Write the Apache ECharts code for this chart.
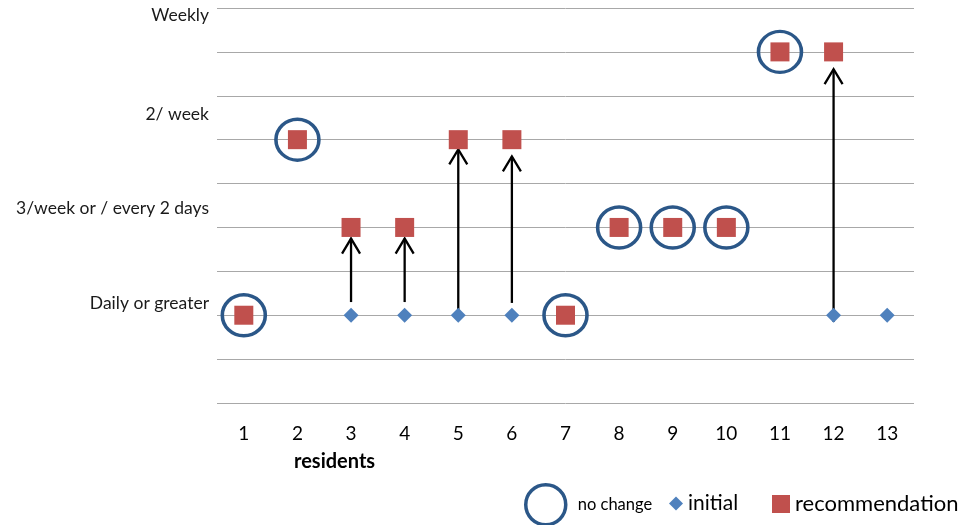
<!DOCTYPE html>
<html><head><meta charset="utf-8">
<script src="https://cdn.jsdelivr.net/npm/echarts@6/dist/echarts.min.js"></script>
<style>html,body{margin:0;padding:0;background:#fff}#c{width:961px;height:525px}</style>
</head><body><div id="c"></div>
<script>
// ---- data ----
const residents = ['1','2','3','4','5','6','7','8','9','10','11','12','13'];
const initialValues = [2, 6, 2, 2, 2, 2, 2, 4, 4, 4, 8, 2, 2];
const recommendationValues = [2, 6, 4, 4, 6, 6, 2, 4, 4, 4, 8, 8, null];
const noChangeResidents = ['1','2','7','8','9','10','11'];
const noChangeValues = [2, 6, 2, 4, 4, 4, 8];
const arrowResidents = ['3','4','5','6','12'];
const arrowStart = [2.3, 2.3, 2.12, 2.28, 1.85];
const arrowEnd = [3.77, 3.77, 5.8, 5.64, 7.63];
const yLabels = ['Daily or greater', '3/week or / every 2 days', '2/ week', 'Weekly'];
const yLabelValues = [2.28, 4.43, 6.58, 8.84];

const FONT = 'Lato';
const chart = echarts.init(document.getElementById('c'));
chart.setOption({
  animation: false,
  textStyle: {fontFamily: FONT},
  title: {text: 'residents', left: 289, top: 447, textStyle: {fontFamily: FONT, fontSize: 20, fontWeight: 'bold', color: '#000'}},
  grid: {left: 217, right: 47, top: 8, bottom: 122},
  legend: [
    {left: 519, top: 478, itemWidth: 42, itemHeight: 40, itemGap: 0, selectedMode: false,
     textStyle: {fontFamily: FONT, fontSize: 16.5, color: '#000', padding: [0, 0, 0, 6]},
     data: [{name: 'no change', icon: 'circle', itemStyle: {color: 'rgba(0,0,0,0)', borderColor: '#2B5788', borderWidth: 3.5, opacity: 1}}]},
    {left: 664, top: 488, itemWidth: 14, itemHeight: 14, selectedMode: false,
     textStyle: {fontFamily: FONT, fontSize: 21, color: '#000'},
     data: [{name: 'initial', icon: 'diamond', itemStyle: {opacity: 1}}]},
    {left: 767, top: 488, itemWidth: 18, itemHeight: 18, selectedMode: false,
     textStyle: {fontFamily: FONT, fontSize: 22, color: '#000'},
     data: [{name: 'recommendation', icon: 'rect', itemStyle: {opacity: 1}}]}
  ],
  xAxis: {
    type: 'category', data: residents, boundaryGap: true,
    axisLine: {show: false}, axisTick: {show: false}, splitLine: {show: false},
    axisLabel: {fontSize: 19, color: '#000', margin: 21, fontFamily: FONT}
  },
  yAxis: [
    {type: 'value', min: 0, max: 9, interval: 1,
     axisLine: {show: false}, axisTick: {show: false}, axisLabel: {show: false},
     splitLine: {lineStyle: {color: '#A8A8A8', width: 1}}},
    {type: 'value', min: 0, max: 9, position: 'left',
     axisLine: {show: false}, axisTick: {show: false}, splitLine: {show: false},
     axisLabel: {
       customValues: yLabelValues, fontSize: 17.5, color: '#1a1a1a', margin: 8, fontFamily: FONT,
       formatter: function (v) {
         let best = 0;
         for (let i = 1; i < yLabelValues.length; i++) {
           if (Math.abs(yLabelValues[i] - v) < Math.abs(yLabelValues[best] - v)) best = i;
         }
         return yLabels[best];
       }
     }}
  ],
  series: [
    {
      name: 'arrows', type: 'custom', yAxisIndex: 0, z: 3,
      data: arrowResidents.map((r, i) => [r, arrowStart[i], arrowEnd[i]]),
      encode: {x: 0, y: [1, 2]},
      renderItem: function (params, api) {
        const x = api.value(0);
        const p0 = api.coord([x, api.value(1)]);
        const p1 = api.coord([x, api.value(2)]);
        return {type: 'group', children: [
          {type: 'line', shape: {x1: p0[0], y1: p0[1], x2: p1[0], y2: p1[1] + 1}, style: {stroke: '#000', lineWidth: 2.3}},
          {type: 'polyline', shape: {points: [[p1[0] - 9, p1[1] + 16], [p1[0], p1[1] + 1], [p1[0] + 9, p1[1] + 16]]},
           style: {stroke: '#000', lineWidth: 2.3, fill: null}}
        ]};
      }
    },
    {
      name: 'initial', type: 'scatter', yAxisIndex: 0, z: 4,
      symbol: 'diamond', symbolSize: 15,
      itemStyle: {color: '#4F81BD', opacity: 1},
      data: initialValues
    },
    {
      name: 'recommendation', type: 'scatter', yAxisIndex: 0, z: 5,
      symbol: 'rect', symbolSize: 19,
      itemStyle: {color: '#C0504D', opacity: 1},
      data: recommendationValues
    },
    {
      name: 'no change', type: 'scatter', yAxisIndex: 0, z: 6,
      symbol: 'circle', symbolSize: [43, 41],
      itemStyle: {color: 'rgba(0,0,0,0)', borderColor: '#2B5788', borderWidth: 3.5, opacity: 1},
      data: noChangeResidents.map((r, i) => [r, noChangeValues[i]])
    }
  ]
});
</script></body></html>
